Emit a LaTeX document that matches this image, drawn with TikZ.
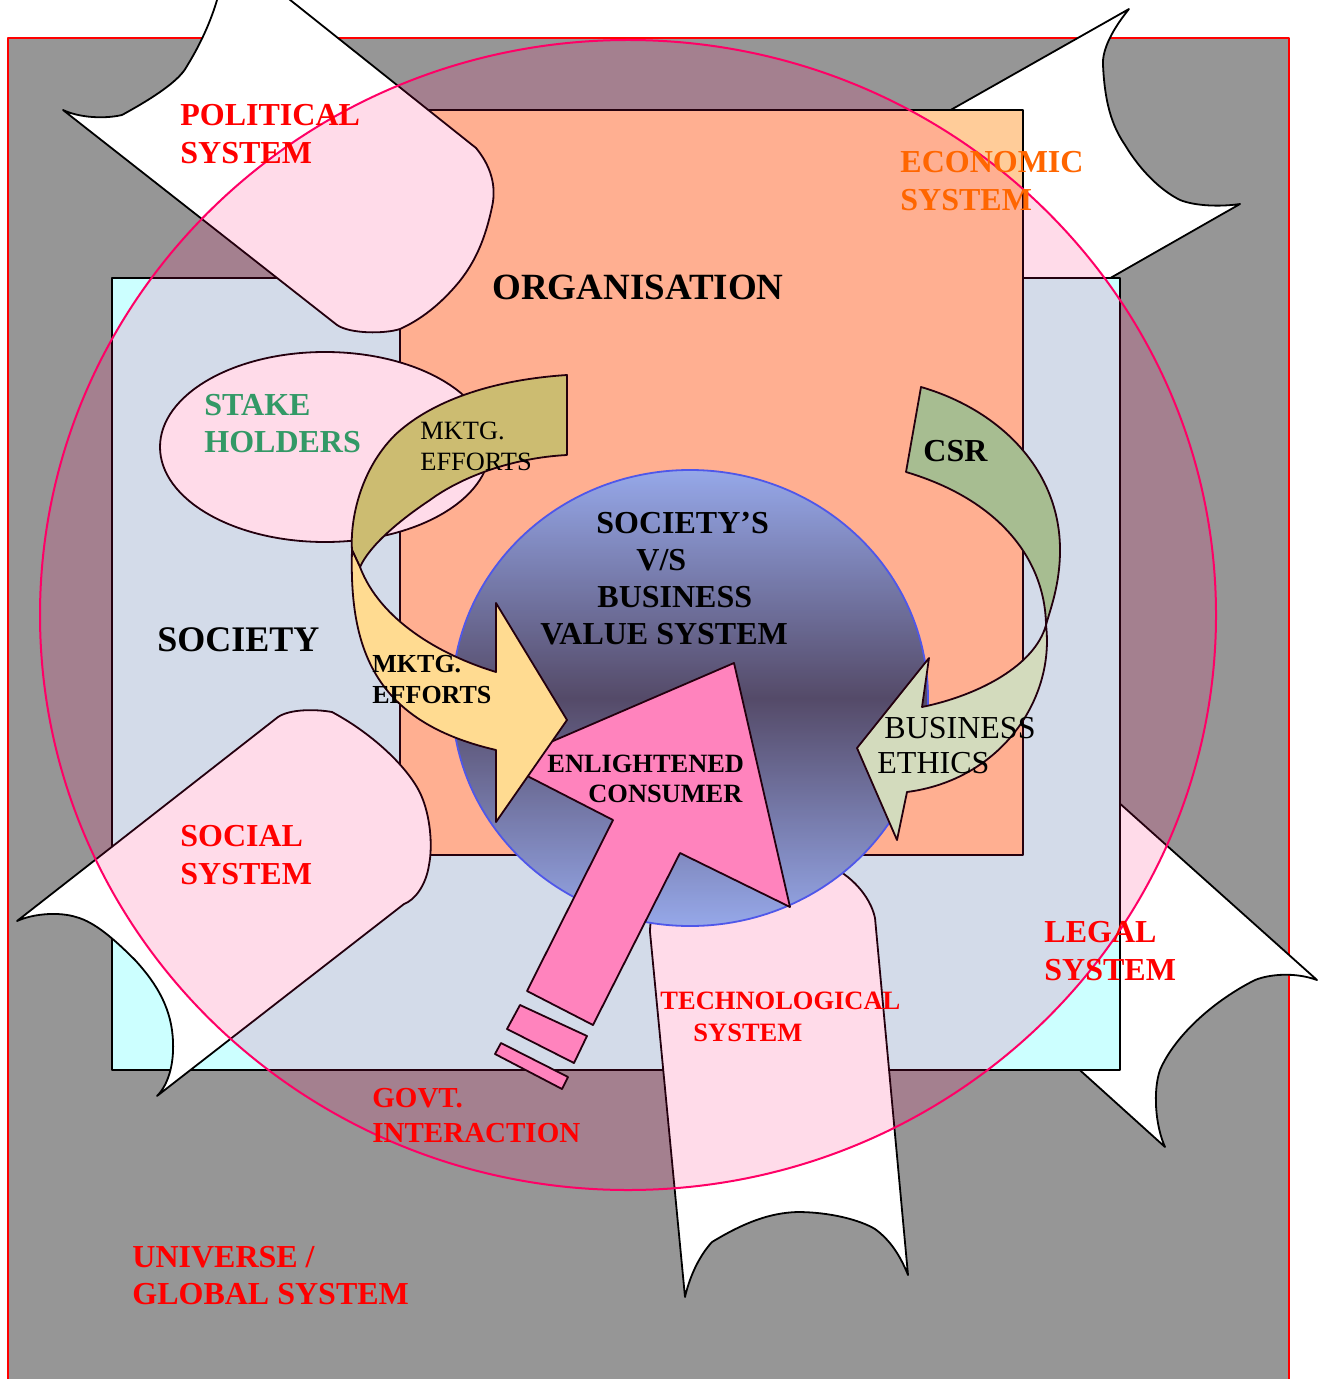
\documentclass[tikz,border=0pt]{standalone}
\usepackage{fontspec}
\setmainfont{Liberation Serif}
\usepackage{tikz}
\definecolor{univgray}{HTML}{969696}
\definecolor{orgorange}{HTML}{FFCC99}
\definecolor{socicyan}{HTML}{CCFFFF}
\definecolor{ringpink}{HTML}{FF0066}
\definecolor{ringred}{HTML}{FF0066}
\definecolor{valblue}{HTML}{3366FF}
\definecolor{valtop}{HTML}{85C4FF}
\definecolor{valmid}{HTML}{395769}
\definecolor{consumerpink}{HTML}{FF99CC}
\definecolor{mktgkhaki}{HTML}{C4DC73}
\definecolor{mktgyellow}{HTML}{FFFF99}
\definecolor{csrgreen}{HTML}{99DD99}
\definecolor{ethicsgreen}{HTML}{CCFFCC}
\definecolor{sysred}{HTML}{FF0000}
\definecolor{econorange}{HTML}{FF6600}
\definecolor{stakegreen}{HTML}{339966}

\begin{document}
\begin{tikzpicture}[x=0.5pt,y=-0.5pt,line join=round,
  outline/.style={draw=black,line width=0.9pt},
  banner/.style={outline,fill=white},
  lbl/.style={inner sep=0pt,anchor=base west,align=left},
  sysname/.style={lbl,text=sysred,font=\bfseries\fontsize{16}{19}\selectfont}]
\useasboundingbox (0,0) rectangle (1323,1379);
\clip (0,0) rectangle (1323,1379);
\draw[red,line width=1pt,fill=univgray] (8,38) rectangle (1289,1400);
% banners behind the boxes
\draw[banner] (880,150) -- (1129,9) .. controls (1112,30) and (1102,50) .. (1103,65)
  .. controls (1105,110) and (1115,130) .. (1125,145) .. controls (1140,170) and (1160,190) .. (1180,200)
  .. controls (1195,206) and (1220,207) .. (1240,204) -- (1000,341) -- cycle;
\draw[banner] (1060,750) -- (1317,980) .. controls (1295,972) and (1270,974) .. (1255,980)
  .. controls (1215,1000) and (1175,1035) .. (1160,1070) .. controls (1153,1090) and (1155,1125) .. (1165,1147)
  -- (1000,998) -- cycle;
\draw[outline,fill=socicyan] (112,278) rectangle (1120,1070);
\draw[outline,fill=orgorange] (400,110) rectangle (1023,855);
% banners in front
\draw[banner] (240,-40) -- (476,148) .. controls (490,165) and (497,185) .. (492,207)
  .. controls (485,240) and (475,262) .. (459,282) .. controls (440,305) and (420,320) .. (400,329)
  .. controls (385,334) and (350,334) .. (337,325) -- (63,110)
  .. controls (80,118) and (105,119) .. (122,115) .. controls (155,97) and (180,80) .. (187,66)
  .. controls (200,45) and (215,15) .. (222,-20) -- cycle;
\draw[banner] (17,921) -- (278,717) .. controls (290,709) and (315,709) .. (332,712)
  .. controls (375,735) and (410,770) .. (421,795) .. controls (430,815) and (433,845) .. (429,865)
  .. controls (426,885) and (415,900) .. (404,904) -- (157,1096)
  .. controls (168,1085) and (174,1065) .. (173,1042) .. controls (172,1010) and (158,985) .. (135,960)
  .. controls (115,940) and (95,922) .. (76,917) .. controls (60,912) and (35,913) .. (17,921) -- cycle;
\draw[banner] (650,932) .. controls (650,900) and (670,875) .. (700,868) -- (830,866)
  .. controls (850,875) and (870,895) .. (875,918) -- (908,1275)
  .. controls (900,1255) and (890,1240) .. (875,1229) .. controls (860,1220) and (830,1212) .. (797,1212)
  .. controls (770,1213) and (745,1222) .. (712,1242) .. controls (700,1255) and (690,1275) .. (685,1297) -- cycle;
\draw[outline,fill=white] (325,447) ellipse [x radius=165,y radius=95];
\draw[valblue,line width=0.9pt,top color=valtop,bottom color=valtop,middle color=valmid]
  (690,698) ellipse [x radius=238,y radius=228];
% consumer arrow
\draw[outline,fill=consumerpink] (734,663) -- (790,907) -- (680,853) -- (593,1025) -- (527,991) -- (613,820) -- (502,763) -- cycle;
\draw[outline,fill=consumerpink] (520,1005) -- (587,1036) -- (574,1063) -- (507,1029) -- cycle;
\draw[outline,fill=consumerpink] (501,1043) -- (568,1077) -- (562,1089) -- (495,1054) -- cycle;
% marketing arrow
\draw[outline,fill=mktgkhaki] (567,375) -- (567,455) .. controls (510,458) and (460,478) .. (430,500)
  .. controls (400,520) and (370,545) .. (360,567) -- (352,550)
  .. controls (350,520) and (360,470) .. (395,435) .. controls (430,402) and (490,380) .. (567,375) -- cycle;
\draw[outline,fill=mktgyellow] (352,550) .. controls (349,650) and (375,722) .. (496,750) -- (496,822) -- (567,720)
  -- (496,603) -- (496,672) .. controls (440,655) and (380,620) .. (360,567) -- cycle;
% csr arrow
\draw[outline,fill=csrgreen] (921,387) .. controls (1000,410) and (1060,470) .. (1060,550)
  .. controls (1060,585) and (1050,610) .. (1046,625) .. controls (1045,560) and (1000,500) .. (906,472) -- cycle;
\draw[outline,fill=ethicsgreen] (1046,625) .. controls (1055,700) and (1000,780) .. (907,792) -- (897,840) -- (857,748)
  -- (929,658) -- (922,707) .. controls (980,695) and (1035,665) .. (1046,625) -- cycle;
% environment ring
\fill[ringpink,opacity=0.14] (628,615) ellipse [x radius=588,y radius=575];
\draw[ringred,line width=1pt] (628,615) ellipse [x radius=588,y radius=575];
% labels
\node[sysname] (political) at (180,164) {POLITICAL\\SYSTEM};
\node[sysname,text=econorange] (economic) at (900,211) {ECONOMIC\\SYSTEM};
\node[sysname] (social) at (180,884) {SOCIAL\\SYSTEM};
\node[sysname] (legal) at (1044,980) {LEGAL\\SYSTEM};
\node[sysname,font=\bfseries\fontsize{13.25}{16}\selectfont] (techno) at (660,1041) {TECHNOLOGICAL\\\hspace*{16.5pt}SYSTEM};
\node[sysname,font=\bfseries\fontsize{14.5}{17.5}\selectfont] (govt) at (372,1142) {GOVT.\\INTERACTION};
\node[sysname,font=\bfseries\fontsize{16}{18.5}\selectfont] (universe) at (132,1304) {UNIVERSE /\\GLOBAL SYSTEM};
\node[lbl,text=stakegreen,font=\bfseries\fontsize{16}{18.5}\selectfont] (stake) at (204,452) {STAKE\\HOLDERS};
\node[lbl,font=\bfseries\fontsize{18.5}{22}\selectfont] (org) at (492,300) {ORGANISATION};
\node[lbl,font=\bfseries\fontsize{18}{22}\selectfont] (society) at (157,651) {SOCIETY};
\node[lbl,font=\fontsize{13.2}{15.5}\selectfont] (mktgtop) at (420,470) {MKTG.\\EFFORTS};
\node[lbl,font=\bfseries\fontsize{13}{15.5}\selectfont] (mktglow) at (372,703) {MKTG.\\EFFORTS};
\node[lbl,font=\bfseries\fontsize{16}{19}\selectfont] (csr) at (923,461) {CSR};
\node[lbl,font=\fontsize{16}{17.5}\selectfont] (ethics) at (877,773) {\hspace*{3.5pt}BUSINESS\\ETHICS};
\node[lbl,font=\bfseries\fontsize{16}{18.5}\selectfont] (values) at (540,644)
  {\hspace*{28pt}SOCIETY’S\\\hspace*{48pt}V/S\\\hspace*{28.5pt}BUSINESS\\VALUE SYSTEM};
\node[lbl,font=\bfseries\fontsize{13.2}{15}\selectfont] (consumer) at (547,802) {ENLIGHTENED\\\hspace*{20.5pt}CONSUMER};
\end{tikzpicture}
\end{document}
